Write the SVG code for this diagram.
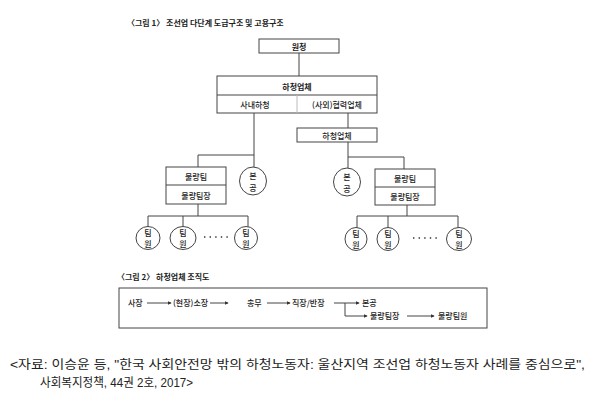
<svg xmlns="http://www.w3.org/2000/svg" width="592" height="400" viewBox="0 0 592 400">
<style>
text{font-family:"Noto Sans CJK KR","Noto Sans",sans-serif;fill:#222}
.s{font-size:8px;font-weight:500}
.t{font-size:8px;font-weight:bold}
.c{text-anchor:middle;dominant-baseline:central}
.box{fill:#fff;stroke:#444;stroke-width:1}
.ln{fill:none;stroke:#444;stroke-width:1}
.src{font-size:12.5px;font-family:"Liberation Sans","Noto Sans CJK KR",sans-serif}
</style>
<defs>
<marker id="ah" viewBox="0 0 6 6" refX="5" refY="3" markerWidth="4" markerHeight="4" orient="auto">
<path d="M0,0 L6,3 L0,6 z" fill="#333"/>
</marker>
</defs>
<rect width="592" height="400" fill="#fff"/>
<text class="t" x="127" y="26">〈그림 1〉 조선업 다단계 도급구조 및 고용구조</text>
<g id="connectors">
<path class="ln" d="M299,53 V76"/>
<path class="ln" d="M254,113 V155 H198 V167"/>
<path class="ln" d="M254,155 V167"/>
<path class="ln" d="M348,113 V128"/>
<path class="ln" d="M348,142 V168"/>
<path class="ln" d="M348,157 H404 V169"/>
<path class="ln" d="M198,204 V216 M148,227 V216 H248 V227 M183,216 V227"/>
<path class="ln" d="M407,205 V216 M357,228 V216 H458 V228 M388,216 V228"/>
</g>
<g id="wonchung">
<rect class="box" x="259" y="39" width="80" height="14"/>
<text class="t c" x="299" y="46">원청</text>
</g>
<g id="hacheong1">
<rect class="box" x="217" y="76" width="160" height="37"/>
<line class="ln" x1="217" y1="95" x2="377" y2="95"/>
<line x1="297" y1="95" x2="297" y2="113" stroke="#bbb"/>
<text class="t c" x="297" y="86">하청업체</text>
<text class="s c" x="255" y="104">사내하청</text>
<text class="s c" x="337" y="104">(사외)협력업체</text>
</g>
<g id="hacheong2">
<rect class="box" x="297" y="128" width="80" height="14"/>
<text class="s c" x="337" y="135">하청업체</text>
</g>
<g id="team-left">
<rect class="box" x="166" y="167" width="60" height="37"/>
<line class="ln" x1="166" y1="185" x2="226" y2="185"/>
<text class="s c" x="196" y="176">물량팀</text>
<text class="s c" x="196" y="195">물량팀장</text>
</g>
<g id="bongong-left">
<ellipse class="box" cx="253" cy="181" rx="13.5" ry="14"/>
<text class="s c" x="253" y="175.5">본</text>
<text class="s c" x="253" y="187">공</text>
</g>
<g id="bongong-right">
<ellipse class="box" cx="347" cy="182" rx="13.5" ry="14"/>
<text class="s c" x="347" y="176.5">본</text>
<text class="s c" x="347" y="188">공</text>
</g>
<g id="team-right">
<rect class="box" x="375" y="169" width="60" height="36"/>
<line class="ln" x1="375" y1="187" x2="435" y2="187"/>
<text class="s c" x="405" y="178">물량팀</text>
<text class="s c" x="405" y="196">물량팀장</text>
</g>
<g id="members-left">
<ellipse class="box" cx="148" cy="238" rx="12" ry="11.5"/>
<text class="s c" x="148" y="232.5">팀</text><text class="s c" x="148" y="243.5">원</text>
<ellipse class="box" cx="183" cy="238" rx="13" ry="11.5"/>
<text class="s c" x="183" y="232.5">팀</text><text class="s c" x="183" y="243.5">원</text>
<ellipse class="box" cx="246" cy="238" rx="11.5" ry="11.5"/>
<text class="s c" x="246" y="232.5">팀</text><text class="s c" x="246" y="243.5">원</text>
<line x1="204" y1="237" x2="232" y2="237" stroke="#333" stroke-width="1.6" stroke-dasharray="1.4 4.2"/>
</g>
<g id="members-right">
<ellipse class="box" cx="356" cy="239" rx="11" ry="11.5"/>
<text class="s c" x="356" y="233.5">팀</text><text class="s c" x="356" y="244.5">원</text>
<ellipse class="box" cx="388" cy="239" rx="11" ry="11.5"/>
<text class="s c" x="388" y="233.5">팀</text><text class="s c" x="388" y="244.5">원</text>
<ellipse class="box" cx="459" cy="239" rx="12.5" ry="11.5"/>
<text class="s c" x="459" y="233.5">팀</text><text class="s c" x="459" y="244.5">원</text>
<line x1="413" y1="238" x2="441" y2="238" stroke="#333" stroke-width="1.6" stroke-dasharray="1.4 4.2"/>
</g>
<text class="t" x="117" y="280">〈그림 2〉 하청업체 조직도</text>
<g id="org-box">
<rect class="box" x="119" y="288" width="368" height="40" stroke="#666"/>
</g>
<g id="org-connectors">
<line class="ln" x1="147" y1="303" x2="171" y2="303" marker-end="url(#ah)"/>
<line class="ln" x1="210" y1="303" x2="228" y2="303" marker-end="url(#ah)"/>
<line class="ln" x1="267" y1="303" x2="290" y2="303" marker-end="url(#ah)"/>
<line class="ln" x1="334" y1="303" x2="359" y2="303" marker-end="url(#ah)"/>
<path class="ln" d="M345,303 V316 H367" marker-end="url(#ah)"/>
<line class="ln" x1="407" y1="316" x2="434" y2="316" marker-end="url(#ah)"/>
</g>
<g id="org-text">
<text class="s" x="128" y="306">사장</text>
<text class="s" x="173" y="306">(현장)소장</text>
<text class="s" x="247" y="306">총무</text>
<text class="s" x="292" y="306">직장/반장</text>
<text class="s" x="362" y="306">본공</text>
<text class="s" x="370" y="319">물량팀장</text>
<text class="s" x="438" y="319">물량팀원</text>
</g>
<text class="src" x="10" y="369" textLength="575" lengthAdjust="spacingAndGlyphs">&lt;자료: 이승윤 등, "한국 사회안전망 밖의 하청노동자: 울산지역 조선업 하청노동자 사례를 중심으로",</text>
<text class="src" x="40" y="387" textLength="153" lengthAdjust="spacingAndGlyphs">사회복지정책, 44권 2호, 2017&gt;</text>
</svg>
